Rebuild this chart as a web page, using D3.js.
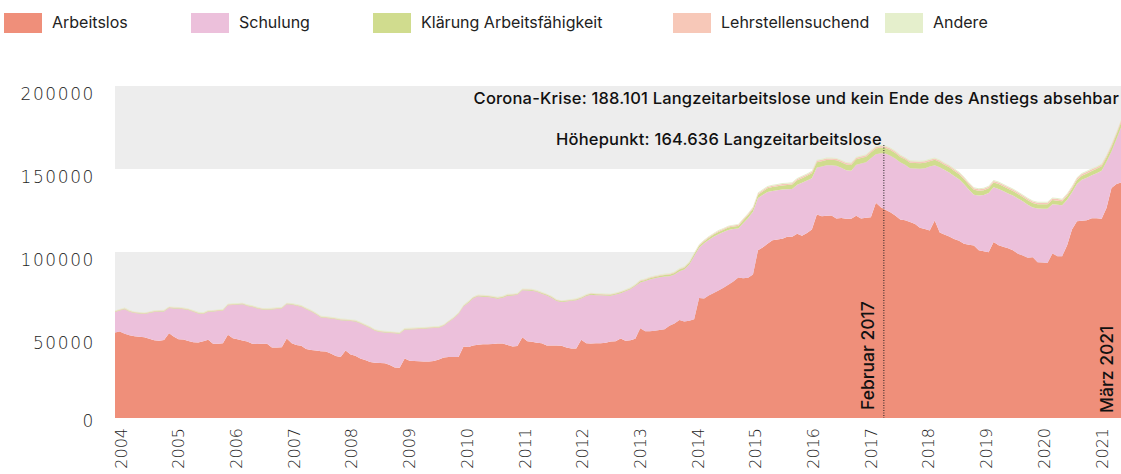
<!DOCTYPE html>
<html><head><meta charset="utf-8">
<script src="https://cdn.jsdelivr.net/npm/d3@7"></script>
<style>body{margin:0;background:#fff;overflow:hidden}</style>
</head><body>
<svg id="c" width="1121" height="474"></svg>
<script>
// ---- DATA (values in thousands of persons, monthly Feb 2004 – Mar 2021) ----
const seriesNames = ["Arbeitslos","Schulung","Klärung Arbeitsfähigkeit","Lehrstellensuchend","Andere"];
const seriesColors = ["#ef8f7a","#ecc0db","#d0dc8e","#f7c8b8","#e5efcc"];
const firstMonth = new Date(2004,1,1), lastMonth = new Date(2021,2,1);

const arbeitslos = [
 51.5,52.1,50.8,49.8,49.3,48.9,48.6,47.8,46.8,46.6,47.0,
 51.1,49.0,47.5,47.3,46.4,45.6,45.5,46.3,47.1,44.7,44.8,45.1,
 50.1,48.1,47.4,46.7,46.1,44.7,44.6,44.7,44.7,42.5,42.4,42.6,
 47.9,45.0,44.0,43.5,41.6,41.0,40.6,40.2,40.0,38.8,37.4,36.7,
 40.7,38.3,37.5,35.8,34.9,33.8,33.3,33.2,33.0,32.0,30.4,30.2,
 35.8,34.5,34.3,34.2,34.1,34.0,34.4,35.2,36.4,36.8,36.7,36.7,
 43.1,42.7,43.6,44.2,44.5,44.5,44.6,44.9,44.9,44.0,43.1,43.3,
 48.7,46.3,45.9,45.4,45.0,43.7,43.7,43.6,43.5,42.4,41.9,41.9,
 47.1,45.0,44.9,45.0,45.1,45.3,46.1,46.3,47.9,46.5,46.8,47.7,
 54.0,52.3,52.2,52.6,53.0,53.4,55.5,57.0,59.0,58.2,58.6,59.5,
 72.3,72.0,73.8,75.3,76.8,78.5,80.2,82.3,84.7,84.2,84.5,86.5,
 101.0,102.9,105.0,107.1,107.5,108.0,109.2,109.2,111.0,109.8,111.5,113.6,
 122.6,121.6,121.8,122.0,120.2,120.5,120.0,120.0,121.8,120.2,120.6,121.0,
 129.7,127.0,125.4,124.0,122.0,119.6,119.2,118.0,116.9,114.6,113.8,113.0,
 119.0,111.8,110.5,109.3,107.8,106.8,105.0,104.4,103.9,101.1,100.5,99.9,
 106.0,104.0,103.2,102.2,101.0,99.0,97.9,96.5,96.8,93.9,93.6,93.4,
 99.1,97.5,97.5,104.0,113.5,118.5,118.9,119.2,120.3,120.3,120.0,126.5,
 138.5,141.0,141.8
];
const schulung = [
 12.3,12.6,14.7,14.2,13.9,14.0,14.0,15.4,17.1,17.5,17.2,
 15.1,17.0,18.4,18.2,18.6,18.4,17.5,16.4,16.9,19.4,19.6,19.5,
 17.8,20.0,20.9,21.8,21.4,22.2,21.4,20.6,20.5,22.9,23.3,23.3,
 20.6,23.3,23.6,23.5,23.9,23.2,21.9,20.4,20.3,21.2,22.1,22.2,
 18.1,20.1,20.7,21.2,20.7,20.4,19.2,18.6,18.5,19.2,20.6,20.6,
 17.4,18.8,19.2,19.4,19.7,20.0,19.8,19.2,19.1,21.0,23.3,25.9,
 24.0,26.8,28.4,29.1,28.6,28.4,27.9,27.0,27.6,29.7,30.7,30.9,
 28.2,30.5,30.8,30.6,29.9,30.1,28.8,26.9,26.4,27.8,28.7,29.1,
 24.9,28.5,29.4,29.0,28.8,28.5,27.6,28.1,27.3,29.8,30.7,31.8,
 27.7,30.2,31.2,31.6,31.8,31.8,29.9,29.5,29.4,31.3,33.9,38.0,
 30.2,33.2,33.4,33.9,33.9,33.5,33.0,31.5,29.4,33.1,36.0,37.7,
 31.5,31.6,31.2,29.7,29.7,29.6,28.6,28.8,29.5,31.9,31.5,30.9,
 28.3,29.9,30.4,30.2,31.7,30.3,29.3,29.0,30.7,33.1,33.4,35.5,
 29.2,32.5,33.9,34.0,34.3,34.4,33.3,32.5,33.4,35.6,36.7,38.5,
 33.3,39.2,39.0,38.6,38.0,37.0,36.0,33.1,30.6,32.9,33.8,35.6,
 33.0,34.0,33.6,33.1,33.0,33.2,32.6,32.0,30.0,32.3,32.5,32.7,
 29.6,30.9,30.6,27.5,22.3,22.5,24.6,25.6,25.9,27.2,29.0,27.8,
 22.0,27.0,33.2
];
const klaerung = [
 0.3,0.3,0.3,0.3,0.3,0.3,0.3,0.3,0.3,0.3,0.3,
 0.3,0.3,0.3,0.3,0.3,0.3,0.3,0.3,0.3,0.3,0.3,0.3,
 0.3,0.3,0.3,0.3,0.3,0.3,0.3,0.3,0.3,0.3,0.3,0.3,
 0.3,0.3,0.3,0.3,0.3,0.3,0.3,0.3,0.3,0.3,0.3,0.3,
 0.3,0.3,0.3,0.3,0.3,0.3,0.3,0.3,0.3,0.3,0.3,0.3,
 0.3,0.3,0.3,0.3,0.3,0.3,0.3,0.3,0.3,0.3,0.3,0.3,
 0.4,0.4,0.4,0.4,0.4,0.4,0.4,0.4,0.4,0.4,0.4,0.4,
 0.4,0.4,0.4,0.4,0.4,0.4,0.4,0.4,0.4,0.4,0.4,0.4,
 0.5,0.5,0.5,0.5,0.5,0.5,0.5,0.5,0.5,0.5,0.5,0.5,
 0.7,0.7,0.8,0.8,0.8,0.9,0.9,0.9,1.0,1.0,1.0,1.1,
 1.2,1.2,1.3,1.3,1.4,1.4,1.5,1.5,1.6,1.7,1.8,1.9,
 2.0,2.1,2.2,2.3,2.4,2.5,2.5,2.6,2.7,2.8,2.9,3.0,
 3.1,3.2,3.2,3.3,3.3,3.3,3.4,3.4,3.4,3.4,3.4,3.4,
 3.4,3.4,3.4,3.4,3.3,3.3,3.3,3.3,3.3,3.2,3.2,3.2,
 3.2,3.2,3.1,3.1,3.1,3.0,3.0,3.0,3.0,2.9,2.9,2.9,
 2.9,2.9,2.8,2.8,2.8,2.8,2.7,2.7,2.7,2.6,2.6,2.6,
 2.6,2.5,2.4,2.3,2.3,2.4,2.5,2.5,2.6,2.6,2.7,2.7,
 2.8,2.8,2.9
];
const lehrstellen = [
 0.3,0.3,0.3,0.3,0.3,0.3,0.3,0.3,0.3,0.3,0.3,
 0.3,0.3,0.3,0.3,0.3,0.3,0.3,0.3,0.3,0.3,0.3,0.3,
 0.3,0.3,0.3,0.3,0.3,0.3,0.3,0.3,0.3,0.3,0.3,0.3,
 0.3,0.3,0.3,0.3,0.3,0.3,0.3,0.3,0.3,0.3,0.3,0.3,
 0.3,0.3,0.3,0.3,0.3,0.3,0.3,0.3,0.3,0.3,0.3,0.3,
 0.3,0.3,0.3,0.3,0.3,0.3,0.3,0.3,0.3,0.3,0.3,0.3,
 0.3,0.3,0.3,0.3,0.3,0.3,0.3,0.3,0.3,0.3,0.3,0.3,
 0.3,0.3,0.3,0.3,0.3,0.3,0.3,0.3,0.3,0.3,0.3,0.3,
 0.3,0.3,0.3,0.3,0.3,0.3,0.3,0.3,0.3,0.3,0.3,0.3,
 0.4,0.4,0.4,0.4,0.4,0.4,0.4,0.4,0.4,0.4,0.4,0.4,
 0.5,0.5,0.5,0.5,0.6,0.6,0.6,0.6,0.7,0.7,0.7,0.7,
 0.8,0.8,0.8,0.8,0.8,0.8,0.8,0.8,0.8,0.8,0.8,0.8,
 0.9,0.9,0.9,0.9,0.9,0.9,0.9,0.9,0.9,0.9,0.9,0.9,
 0.9,0.9,0.9,0.9,0.9,0.9,0.9,0.9,0.9,0.9,0.9,0.9,
 0.9,0.9,0.9,0.9,0.9,0.9,0.9,0.9,0.9,0.9,0.9,0.9,
 0.9,0.9,0.9,0.9,0.9,0.9,0.9,0.9,0.9,0.9,0.9,0.9,
 1.0,1.0,1.0,1.0,1.0,1.0,1.0,1.0,1.0,1.0,1.0,1.0,
 1.1,1.1,1.1
];
const andere = [
 0.4,0.4,0.4,0.4,0.4,0.4,0.4,0.4,0.4,0.4,0.4,
 0.4,0.4,0.4,0.4,0.4,0.4,0.4,0.4,0.4,0.4,0.4,0.4,
 0.4,0.4,0.4,0.4,0.4,0.4,0.4,0.4,0.4,0.4,0.4,0.4,
 0.4,0.4,0.4,0.4,0.4,0.4,0.4,0.4,0.4,0.4,0.4,0.4,
 0.4,0.4,0.4,0.4,0.4,0.4,0.4,0.4,0.4,0.4,0.4,0.4,
 0.4,0.4,0.4,0.4,0.4,0.4,0.4,0.4,0.4,0.4,0.4,0.4,
 0.4,0.4,0.4,0.4,0.4,0.4,0.4,0.4,0.4,0.4,0.4,0.4,
 0.4,0.4,0.4,0.4,0.4,0.4,0.4,0.4,0.4,0.4,0.4,0.4,
 0.4,0.4,0.4,0.4,0.4,0.4,0.4,0.4,0.4,0.4,0.4,0.4,
 0.5,0.5,0.5,0.5,0.5,0.5,0.5,0.5,0.5,0.5,0.5,0.5,
 0.5,0.5,0.5,0.5,0.5,0.5,0.5,0.5,0.5,0.5,0.5,0.5,
 0.6,0.6,0.6,0.6,0.6,0.6,0.6,0.6,0.6,0.6,0.6,0.6,
 0.6,0.6,0.6,0.6,0.6,0.6,0.6,0.6,0.6,0.6,0.6,0.6,
 0.6,0.6,0.6,0.6,0.6,0.6,0.6,0.6,0.6,0.6,0.6,0.6,
 0.6,0.6,0.6,0.6,0.6,0.6,0.6,0.6,0.6,0.6,0.6,0.6,
 0.6,0.6,0.6,0.6,0.6,0.6,0.6,0.6,0.6,0.6,0.6,0.6,
 0.6,0.6,0.6,0.6,0.6,0.6,0.6,0.6,0.6,0.6,0.6,0.6,
 0.6,0.6,0.6
];
const yTickValues = [0, 50000, 100000, 150000, 200000];
const xTickYears = [2004,2005,2006,2007,2008,2009,2010,2011,2012,2013,2014,2015,2016,2017,2018,2019,2020,2021];
const peakMonth = new Date(2017,1,1), peakLabel = "Februar 2017", peakText = "Höhepunkt: 164.636 Langzeitarbeitslose";
const lastLabel = "März 2021", coronaText = "Corona-Krise: 188.101 Langzeitarbeitslose und kein Ende des Anstiegs absehbar";

// ---- BUILD ----
const months = d3.timeMonth.range(firstMonth, d3.timeMonth.offset(lastMonth, 1));
const seriesArrays = [arbeitslos, schulung, klaerung, lehrstellen, andere];
const rows = months.map((m, i) => {
  const r = {date: m};
  seriesNames.forEach((n, k) => r[n] = seriesArrays[k][i] * 1000);
  return r;
});

const svg = d3.select("#c");
const plot = {left:115, right:1121, top:86, bottom:418};
const x = d3.scaleTime().domain([firstMonth, lastMonth]).range([plot.left, plot.right]);
const xAxisScale = d3.scaleTime().domain([new Date(2004,0,1), new Date(2021,0,1)]).range([121, 1102]);
const y = d3.scaleLinear().domain([0, 200000]).range([plot.bottom, plot.top]);

// background bands
for (let i = 1; i < yTickValues.length - 1; i += 2) {
  svg.append("rect").attr("x", plot.left).attr("width", plot.right - plot.left)
    .attr("y", y(yTickValues[i+1])).attr("height", y(yTickValues[i]) - y(yTickValues[i+1]))
    .attr("fill", "#ededed");
}

const stack = d3.stack().keys(seriesNames)(rows);
const area = d3.area().x(d => x(d.data.date)).y0(d => y(d[0])).y1(d => y(d[1]));
svg.append("g").selectAll("path").data(stack).join("path")
  .attr("d", area).attr("fill", (d, i) => seriesColors[i]);

// y labels
const tickFont = "'DejaVu Sans', sans-serif";
svg.append("g").selectAll("text").data(yTickValues).join("text")
  .attr("x", 95).attr("y", d => y(d) + (d === 0 ? 3 : 8)).attr("dy", "0.35em")
  .attr("text-anchor", "end").attr("font-family", tickFont).attr("font-weight", 200)
  .attr("font-size", 17).attr("letter-spacing", 1.6).attr("fill", "#1e1e1e")
  .text(d => d);

// x labels
svg.append("g").selectAll("text").data(xTickYears).join("text")
  .attr("transform", d => `translate(${xAxisScale(new Date(d,0,1))},428) rotate(-90)`)
  .attr("dy", "0.35em").attr("text-anchor", "end")
  .attr("font-family", tickFont).attr("font-weight", 200)
  .attr("font-size", 16).attr("fill", "#1e1e1e")
  .text(d => d);

// annotations
const annFont = "Inter, 'Open Sans', sans-serif";
const px = x(peakMonth);
svg.append("line").attr("x1", px + 3).attr("x2", px + 3).attr("y1", 145).attr("y2", plot.bottom)
  .attr("stroke", "#222").attr("stroke-width", 1).attr("stroke-dasharray", "1,1.5");
svg.append("text").attr("x", px + 1).attr("y", 145).attr("text-anchor", "end")
  .attr("font-family", annFont).attr("font-weight", 500).attr("font-size", 16.5)
  .attr("letter-spacing", 0.2).attr("fill", "#111")
  .text(peakText);
svg.append("text").attr("x", 1119).attr("y", 104).attr("text-anchor", "end")
  .attr("font-family", annFont).attr("font-weight", 500).attr("font-size", 16.5)
  .attr("letter-spacing", 0.2).attr("fill", "#111")
  .text(coronaText);
svg.append("text").attr("transform", `translate(${px - 7},410) rotate(-90)`)
  .attr("font-family", annFont).attr("font-weight", 500).attr("font-size", 17.5).attr("fill", "#111")
  .text(peakLabel);
svg.append("text").attr("transform", `translate(${x(lastMonth) - 8},413) rotate(-90)`)
  .attr("font-family", annFont).attr("font-weight", 500).attr("font-size", 17.5).attr("fill", "#111")
  .text(lastLabel);

// legend
const legendX = [4, 191, 373, 673, 885];
const lg = svg.append("g").selectAll("g").data(seriesNames).join("g")
  .attr("transform", (d, i) => `translate(${legendX[i]},13)`);
lg.append("rect").attr("width", 38).attr("height", 20).attr("fill", (d, i) => seriesColors[i]);
lg.append("text").attr("x", 48).attr("y", 15).attr("font-family", annFont)
  .attr("font-size", 16).attr("fill", "#222").text(d => d);
</script>
</body></html>
